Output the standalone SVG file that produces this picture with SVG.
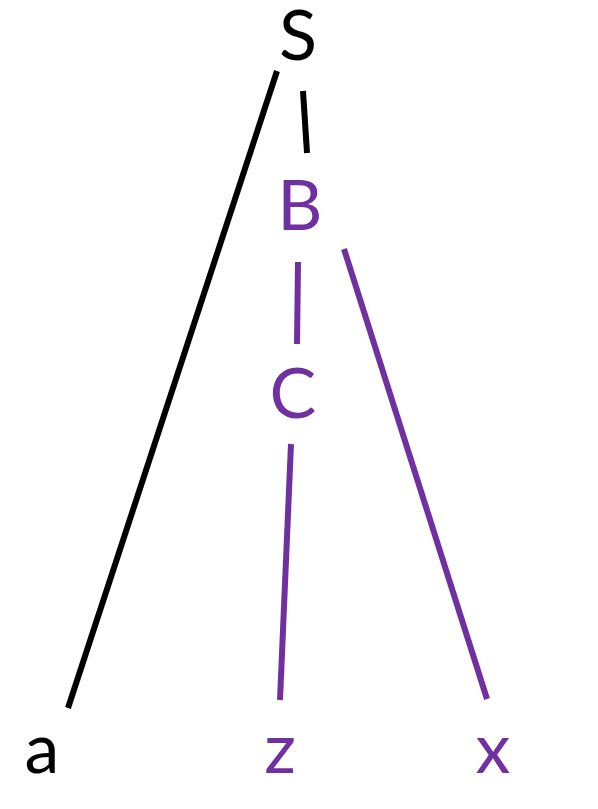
<svg xmlns="http://www.w3.org/2000/svg" width="598" height="809" viewBox="0 0 598 809">
<style>
text{font-family:Lato,"Open Sans",sans-serif;font-size:70px;text-anchor:middle}
.k{fill:#000}
.p{fill:#7030A0}
line{stroke-width:6;stroke-linecap:butt}
.lk{stroke:#000}
.lp{stroke:#7030A0}
</style>
<rect width="598" height="809" fill="#fff"/>
<g id="connectors">
<line class="lk" x1="277" y1="71" x2="68" y2="708"/>
<line class="lk" x1="303" y1="91" x2="307" y2="153"/>
<line class="lp" x1="298" y1="262" x2="297" y2="344"/>
<line class="lp" x1="344" y1="249" x2="487" y2="699"/>
<line class="lp" x1="291" y1="444" x2="280" y2="700"/>
</g>
<g id="S"><text class="k" x="298" y="60">S</text></g>
<g id="B"><text class="p" x="300" y="230">B</text></g>
<g id="C"><text class="p" x="293" y="418">C</text></g>
<g id="a"><text class="k" x="42" y="773">a</text></g>
<g id="z"><text class="p" x="280" y="773">z</text></g>
<g id="x"><text class="p" x="493" y="773">x</text></g>
</svg>
